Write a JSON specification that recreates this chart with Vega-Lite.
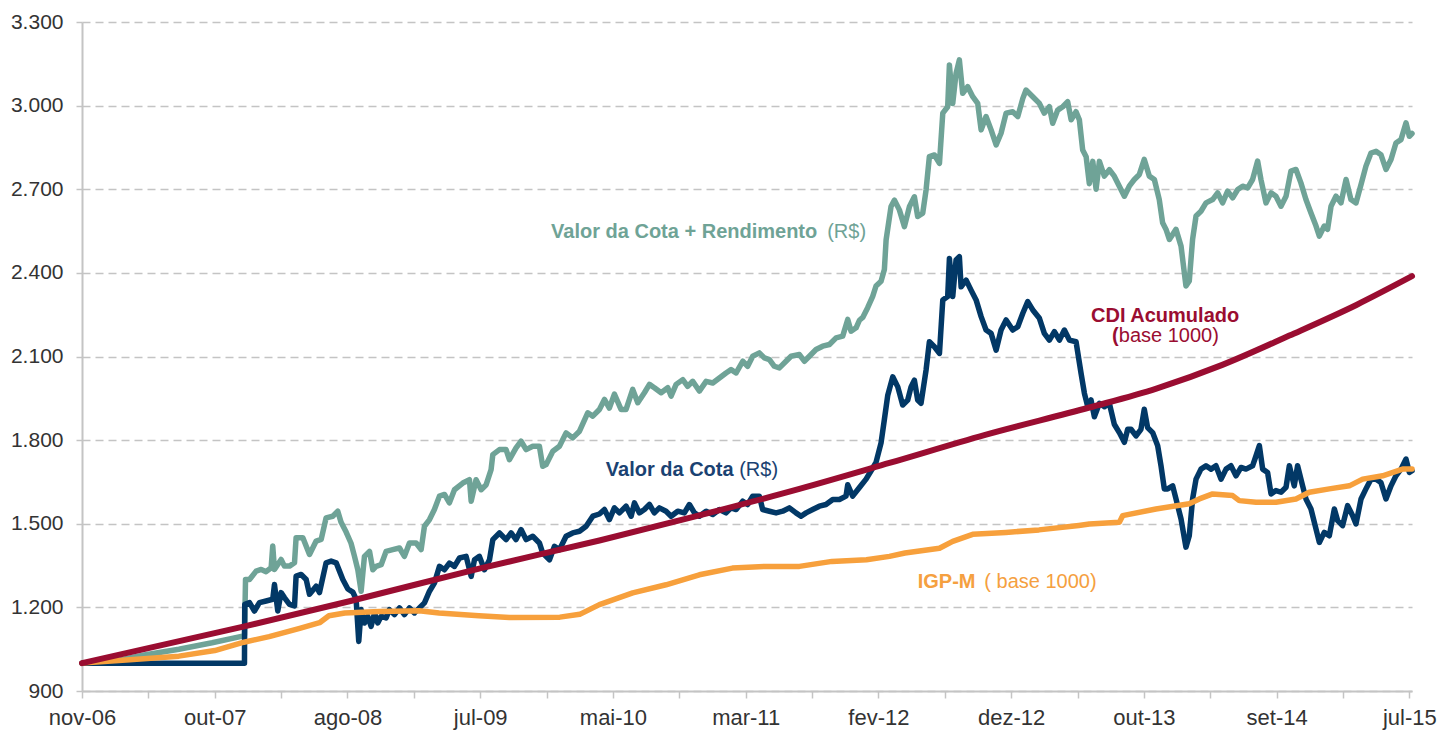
{
  "$schema": "https://vega.github.io/schema/vega-lite/v6.json",
  "width": 1330,
  "height": 669,
  "autosize": {"type": "none"},
  "padding": {"left": 82, "top": 22, "right": 28, "bottom": 40},
  "config": {
    "view": {"stroke": null},
    "font": "Liberation Sans",
    "axis": {"labelFont": "Liberation Sans", "labelColor": "#333333", "title": null}
  },
  "datasets": {
    "rend": [
      {"t":0,"v":1000},{"t":0.25,"v":1008},{"t":0.48,"v":1030},{"t":0.73,"v":1050},{"t":0.98,"v":1073},{"t":1.21,"v":1097},{"t":1.224,"v":1100},
      {"t":1.232,"v":1300},{"t":1.262,"v":1300},{"t":1.312,"v":1330},{"t":1.35,"v":1336},{"t":1.387,"v":1328},{"t":1.425,"v":1342},{"t":1.437,"v":1420},{"t":1.45,"v":1336},
      {"t":1.5,"v":1372},{"t":1.525,"v":1348},{"t":1.563,"v":1348},{"t":1.601,"v":1360},{"t":1.613,"v":1450},{"t":1.664,"v":1450},{"t":1.714,"v":1390},{"t":1.764,"v":1438},
      {"t":1.802,"v":1444},{"t":1.839,"v":1521},{"t":1.889,"v":1527},{"t":1.927,"v":1545},{"t":1.952,"v":1505},{"t":1.99,"v":1470},{"t":2.027,"v":1430},{"t":2.053,"v":1383},
      {"t":2.078,"v":1335},{"t":2.103,"v":1258},{"t":2.128,"v":1383},{"t":2.166,"v":1401},{"t":2.191,"v":1335},{"t":2.216,"v":1347},{"t":2.254,"v":1353},{"t":2.291,"v":1401},
      {"t":2.341,"v":1407},{"t":2.392,"v":1413},{"t":2.429,"v":1383},{"t":2.467,"v":1431},{"t":2.517,"v":1431},{"t":2.555,"v":1407},{"t":2.58,"v":1491},{"t":2.618,"v":1515},
      {"t":2.655,"v":1551},{"t":2.693,"v":1599},{"t":2.731,"v":1605},{"t":2.768,"v":1575},{"t":2.806,"v":1622},{"t":2.869,"v":1646},{"t":2.919,"v":1658},{"t":2.932,"v":1581},
      {"t":2.969,"v":1658},{"t":3.007,"v":1622},{"t":3.045,"v":1640},{"t":3.082,"v":1694},{"t":3.095,"v":1748},{"t":3.145,"v":1766},{"t":3.195,"v":1766},{"t":3.22,"v":1730},
      {"t":3.27,"v":1772},{"t":3.308,"v":1796},{"t":3.346,"v":1766},{"t":3.396,"v":1778},{"t":3.446,"v":1778},{"t":3.471,"v":1706},{"t":3.496,"v":1712},{"t":3.547,"v":1760},
      {"t":3.597,"v":1778},{"t":3.647,"v":1826},{"t":3.697,"v":1808},{"t":3.748,"v":1832},{"t":3.81,"v":1898},{"t":3.848,"v":1886},{"t":3.898,"v":1910},{"t":3.936,"v":1946},
      {"t":3.973,"v":1915},{"t":4.011,"v":1965},{"t":4.061,"v":1910},{"t":4.099,"v":1910},{"t":4.149,"v":1982},{"t":4.187,"v":1934},{"t":4.237,"v":1970},{"t":4.275,"v":2000},
      {"t":4.312,"v":1988},{"t":4.363,"v":1970},{"t":4.413,"v":1988},{"t":4.438,"v":1958},{"t":4.476,"v":2000},{"t":4.526,"v":2017},{"t":4.563,"v":1993},{"t":4.601,"v":2011},
      {"t":4.651,"v":1976},{"t":4.702,"v":2011},{"t":4.752,"v":2005},{"t":4.802,"v":2023},{"t":4.852,"v":2041},{"t":4.89,"v":2053},{"t":4.928,"v":2041},{"t":4.978,"v":2083},
      {"t":5.015,"v":2065},{"t":5.053,"v":2101},{"t":5.103,"v":2113},{"t":5.141,"v":2095},{"t":5.179,"v":2089},{"t":5.216,"v":2065},{"t":5.254,"v":2059},{"t":5.304,"v":2083},
      {"t":5.342,"v":2101},{"t":5.405,"v":2107},{"t":5.442,"v":2083},{"t":5.48,"v":2101},{"t":5.53,"v":2125},{"t":5.58,"v":2137},{"t":5.631,"v":2143},{"t":5.681,"v":2167},
      {"t":5.731,"v":2173},{"t":5.769,"v":2233},{"t":5.794,"v":2191},{"t":5.832,"v":2203},{"t":5.857,"v":2230},{"t":5.882,"v":2240},{"t":5.919,"v":2275},{"t":5.957,"v":2316},
      {"t":5.982,"v":2353},{"t":6.02,"v":2370},{"t":6.045,"v":2412},{"t":6.058,"v":2518},{"t":6.095,"v":2638},{"t":6.121,"v":2661},{"t":6.158,"v":2626},{"t":6.196,"v":2566},
      {"t":6.234,"v":2638},{"t":6.271,"v":2673},{"t":6.296,"v":2602},{"t":6.334,"v":2614},{"t":6.359,"v":2697},{"t":6.384,"v":2817},{"t":6.422,"v":2823},{"t":6.46,"v":2793},
      {"t":6.485,"v":2973},{"t":6.522,"v":2996},{"t":6.535,"v":3146},{"t":6.56,"v":3008},{"t":6.585,"v":3116},{"t":6.61,"v":3164},{"t":6.635,"v":3044},{"t":6.673,"v":3068},
      {"t":6.711,"v":3032},{"t":6.748,"v":3008},{"t":6.774,"v":2913},{"t":6.811,"v":2961},{"t":6.849,"v":2913},{"t":6.887,"v":2859},{"t":6.924,"v":2901},{"t":6.962,"v":2973},
      {"t":7.012,"v":2978},{"t":7.05,"v":2961},{"t":7.088,"v":3026},{"t":7.112,"v":3056},{"t":7.163,"v":3032},{"t":7.213,"v":3008},{"t":7.25,"v":2973},{"t":7.288,"v":2996},
      {"t":7.313,"v":2937},{"t":7.351,"v":2984},{"t":7.389,"v":2996},{"t":7.426,"v":3014},{"t":7.452,"v":2949},{"t":7.489,"v":2978},{"t":7.514,"v":2949},{"t":7.539,"v":2841},
      {"t":7.565,"v":2817},{"t":7.589,"v":2720},{"t":7.615,"v":2800},{"t":7.64,"v":2700},{"t":7.665,"v":2800},{"t":7.702,"v":2747},{"t":7.74,"v":2770},{"t":7.777,"v":2747},
      {"t":7.815,"v":2711},{"t":7.853,"v":2675},{"t":7.89,"v":2711},{"t":7.928,"v":2735},{"t":7.966,"v":2753},{"t":8.003,"v":2807},{"t":8.041,"v":2747},{"t":8.079,"v":2735},
      {"t":8.116,"v":2663},{"t":8.141,"v":2580},{"t":8.167,"v":2556},{"t":8.192,"v":2520},{"t":8.242,"v":2556},{"t":8.28,"v":2496},{"t":8.317,"v":2353},{"t":8.342,"v":2371},
      {"t":8.367,"v":2520},{"t":8.393,"v":2604},{"t":8.43,"v":2621},{"t":8.468,"v":2651},{"t":8.518,"v":2663},{"t":8.556,"v":2687},{"t":8.593,"v":2651},{"t":8.631,"v":2693},
      {"t":8.669,"v":2669},{"t":8.707,"v":2699},{"t":8.744,"v":2711},{"t":8.782,"v":2705},{"t":8.819,"v":2735},{"t":8.857,"v":2801},{"t":8.882,"v":2735},{"t":8.92,"v":2651},
      {"t":8.958,"v":2687},{"t":8.995,"v":2675},{"t":9.033,"v":2639},{"t":9.071,"v":2675},{"t":9.108,"v":2765},{"t":9.146,"v":2771},{"t":9.183,"v":2723},{"t":9.221,"v":2663},
      {"t":9.259,"v":2615},{"t":9.297,"v":2568},{"t":9.322,"v":2532},{"t":9.359,"v":2568},{"t":9.384,"v":2556},{"t":9.41,"v":2639},{"t":9.447,"v":2675},{"t":9.485,"v":2651},
      {"t":9.523,"v":2735},{"t":9.56,"v":2663},{"t":9.598,"v":2651},{"t":9.636,"v":2717},{"t":9.673,"v":2783},{"t":9.711,"v":2830},{"t":9.749,"v":2836},{"t":9.786,"v":2824},
      {"t":9.824,"v":2771},{"t":9.862,"v":2807},{"t":9.899,"v":2866},{"t":9.937,"v":2878},{"t":9.975,"v":2938},{"t":10.0,"v":2890},{"t":10.02,"v":2900}
    ],
    "cota": [
      {"t":0,"v":1000},{"t":1.224,"v":1000},{"t":1.226,"v":1211},{"t":1.262,"v":1217},{"t":1.299,"v":1187},{"t":1.337,"v":1217},{"t":1.387,"v":1223},{"t":1.437,"v":1229},
      {"t":1.45,"v":1282},{"t":1.475,"v":1187},{"t":1.5,"v":1253},{"t":1.525,"v":1235},{"t":1.563,"v":1211},{"t":1.601,"v":1205},{"t":1.613,"v":1312},{"t":1.651,"v":1318},
      {"t":1.689,"v":1300},{"t":1.714,"v":1247},{"t":1.764,"v":1276},{"t":1.789,"v":1253},{"t":1.839,"v":1360},{"t":1.877,"v":1366},{"t":1.915,"v":1360},{"t":1.94,"v":1330},
      {"t":1.965,"v":1300},{"t":2.003,"v":1266},{"t":2.04,"v":1255},{"t":2.065,"v":1230},{"t":2.085,"v":1078},{"t":2.103,"v":1192},{"t":2.128,"v":1144},{"t":2.153,"v":1168},
      {"t":2.178,"v":1132},{"t":2.204,"v":1180},{"t":2.228,"v":1144},{"t":2.254,"v":1168},{"t":2.291,"v":1162},{"t":2.316,"v":1192},{"t":2.354,"v":1174},{"t":2.392,"v":1198},
      {"t":2.429,"v":1174},{"t":2.467,"v":1198},{"t":2.505,"v":1180},{"t":2.542,"v":1198},{"t":2.58,"v":1216},{"t":2.618,"v":1258},{"t":2.655,"v":1287},{"t":2.693,"v":1347},
      {"t":2.731,"v":1335},{"t":2.768,"v":1359},{"t":2.806,"v":1347},{"t":2.844,"v":1377},{"t":2.894,"v":1383},{"t":2.932,"v":1311},{"t":2.957,"v":1371},{"t":2.994,"v":1383},
      {"t":3.032,"v":1335},{"t":3.07,"v":1371},{"t":3.095,"v":1443},{"t":3.145,"v":1467},{"t":3.195,"v":1443},{"t":3.233,"v":1467},{"t":3.27,"v":1443},{"t":3.308,"v":1479},
      {"t":3.346,"v":1443},{"t":3.396,"v":1455},{"t":3.446,"v":1431},{"t":3.471,"v":1395},{"t":3.522,"v":1371},{"t":3.559,"v":1419},{"t":3.597,"v":1407},{"t":3.647,"v":1455},
      {"t":3.697,"v":1467},{"t":3.748,"v":1473},{"t":3.798,"v":1491},{"t":3.848,"v":1527},{"t":3.898,"v":1535},{"t":3.936,"v":1551},{"t":3.973,"v":1515},{"t":4.011,"v":1557},
      {"t":4.049,"v":1539},{"t":4.099,"v":1563},{"t":4.137,"v":1527},{"t":4.162,"v":1575},{"t":4.199,"v":1539},{"t":4.237,"v":1551},{"t":4.275,"v":1569},{"t":4.312,"v":1539},
      {"t":4.35,"v":1557},{"t":4.4,"v":1545},{"t":4.438,"v":1527},{"t":4.488,"v":1545},{"t":4.538,"v":1539},{"t":4.576,"v":1569},{"t":4.614,"v":1539},{"t":4.651,"v":1527},
      {"t":4.702,"v":1545},{"t":4.752,"v":1533},{"t":4.802,"v":1551},{"t":4.852,"v":1539},{"t":4.89,"v":1557},{"t":4.928,"v":1551},{"t":4.978,"v":1581},{"t":5.015,"v":1569},
      {"t":5.053,"v":1599},{"t":5.103,"v":1599},{"t":5.128,"v":1551},{"t":5.179,"v":1545},{"t":5.229,"v":1539},{"t":5.279,"v":1545},{"t":5.329,"v":1557},{"t":5.379,"v":1539},
      {"t":5.417,"v":1527},{"t":5.455,"v":1539},{"t":5.505,"v":1551},{"t":5.555,"v":1563},{"t":5.605,"v":1569},{"t":5.656,"v":1587},{"t":5.706,"v":1587},{"t":5.756,"v":1599},
      {"t":5.769,"v":1640},{"t":5.806,"v":1599},{"t":5.857,"v":1630},{"t":5.907,"v":1660},{"t":5.945,"v":1690},{"t":5.982,"v":1720},{"t":6.02,"v":1790},{"t":6.045,"v":1874},
      {"t":6.07,"v":1960},{"t":6.108,"v":2027},{"t":6.146,"v":1991},{"t":6.183,"v":1926},{"t":6.221,"v":1944},{"t":6.246,"v":1991},{"t":6.271,"v":2015},{"t":6.296,"v":1944},
      {"t":6.321,"v":1932},{"t":6.359,"v":2051},{"t":6.384,"v":2153},{"t":6.422,"v":2135},{"t":6.46,"v":2111},{"t":6.485,"v":2303},{"t":6.522,"v":2315},{"t":6.535,"v":2452},
      {"t":6.56,"v":2315},{"t":6.585,"v":2446},{"t":6.61,"v":2458},{"t":6.623,"v":2350},{"t":6.661,"v":2374},{"t":6.698,"v":2338},{"t":6.736,"v":2303},{"t":6.774,"v":2243},
      {"t":6.811,"v":2195},{"t":6.849,"v":2183},{"t":6.887,"v":2123},{"t":6.924,"v":2195},{"t":6.962,"v":2231},{"t":7.012,"v":2195},{"t":7.05,"v":2207},{"t":7.088,"v":2255},
      {"t":7.125,"v":2297},{"t":7.163,"v":2267},{"t":7.213,"v":2237},{"t":7.25,"v":2183},{"t":7.288,"v":2159},{"t":7.326,"v":2189},{"t":7.364,"v":2159},{"t":7.401,"v":2195},
      {"t":7.439,"v":2159},{"t":7.489,"v":2153},{"t":7.527,"v":2039},{"t":7.552,"v":1968},{"t":7.577,"v":1920},{"t":7.602,"v":1944},{"t":7.627,"v":1884},{"t":7.665,"v":1932},
      {"t":7.703,"v":1920},{"t":7.74,"v":1932},{"t":7.777,"v":1857},{"t":7.815,"v":1827},{"t":7.853,"v":1792},{"t":7.878,"v":1839},{"t":7.903,"v":1839},{"t":7.941,"v":1815},
      {"t":7.978,"v":1839},{"t":8.003,"v":1911},{"t":8.028,"v":1845},{"t":8.066,"v":1827},{"t":8.104,"v":1780},{"t":8.129,"v":1708},{"t":8.154,"v":1625},{"t":8.179,"v":1625},
      {"t":8.217,"v":1636},{"t":8.242,"v":1589},{"t":8.28,"v":1517},{"t":8.317,"v":1416},{"t":8.342,"v":1457},{"t":8.367,"v":1589},{"t":8.393,"v":1660},{"t":8.43,"v":1696},
      {"t":8.468,"v":1708},{"t":8.506,"v":1696},{"t":8.543,"v":1708},{"t":8.581,"v":1660},{"t":8.619,"v":1696},{"t":8.656,"v":1708},{"t":8.694,"v":1672},{"t":8.732,"v":1702},
      {"t":8.769,"v":1696},{"t":8.819,"v":1708},{"t":8.845,"v":1744},{"t":8.87,"v":1780},{"t":8.895,"v":1696},{"t":8.932,"v":1684},{"t":8.958,"v":1607},{"t":8.995,"v":1619},
      {"t":9.033,"v":1613},{"t":9.071,"v":1631},{"t":9.096,"v":1708},{"t":9.133,"v":1636},{"t":9.158,"v":1708},{"t":9.196,"v":1636},{"t":9.221,"v":1589},{"t":9.259,"v":1553},
      {"t":9.297,"v":1481},{"t":9.322,"v":1433},{"t":9.359,"v":1469},{"t":9.397,"v":1457},{"t":9.435,"v":1553},{"t":9.46,"v":1511},{"t":9.497,"v":1493},{"t":9.535,"v":1565},
      {"t":9.573,"v":1529},{"t":9.598,"v":1499},{"t":9.636,"v":1589},{"t":9.673,"v":1625},{"t":9.711,"v":1660},{"t":9.749,"v":1660},{"t":9.786,"v":1648},{"t":9.824,"v":1589},
      {"t":9.862,"v":1636},{"t":9.899,"v":1672},{"t":9.937,"v":1696},{"t":9.975,"v":1732},{"t":10.0,"v":1684},{"t":10.02,"v":1690}
    ],
    "cdi": [
      {"t":0,"v":1000},{"t":1.224,"v":1132},{"t":2.015,"v":1222},{"t":3.0,"v":1340},{"t":3.898,"v":1440},{"t":4.651,"v":1530},{"t":5.405,"v":1625},{"t":6.083,"v":1718},
      {"t":6.798,"v":1818},{"t":7.589,"v":1917},{"t":8.094,"v":1985},{"t":8.591,"v":2070},{"t":9.096,"v":2175},{"t":9.601,"v":2285},{"t":10.02,"v":2388}
    ],
    "igpm": [
      {"t":0,"v":1000},{"t":0.36,"v":1012},{"t":0.73,"v":1025},{"t":1.0,"v":1045},{"t":1.22,"v":1075},{"t":1.41,"v":1095},{"t":1.64,"v":1125},{"t":1.79,"v":1145},
      {"t":1.86,"v":1170},{"t":1.98,"v":1180},{"t":2.24,"v":1185},{"t":2.54,"v":1188},{"t":2.69,"v":1180},{"t":2.99,"v":1170},{"t":3.22,"v":1164},{"t":3.6,"v":1165},
      {"t":3.75,"v":1175},{"t":3.898,"v":1210},{"t":4.149,"v":1252},{"t":4.4,"v":1281},{"t":4.651,"v":1317},{"t":4.9,"v":1341},{"t":5.15,"v":1347},{"t":5.405,"v":1347},
      {"t":5.65,"v":1365},{"t":5.91,"v":1371},{"t":6.083,"v":1383},{"t":6.2,"v":1395},{"t":6.46,"v":1412},{"t":6.56,"v":1437},{"t":6.71,"v":1462},{"t":6.96,"v":1469},
      {"t":7.21,"v":1478},{"t":7.51,"v":1494},{"t":7.589,"v":1499},{"t":7.815,"v":1505},{"t":7.84,"v":1529},{"t":8.091,"v":1553},{"t":8.342,"v":1572},{"t":8.418,"v":1589},
      {"t":8.518,"v":1607},{"t":8.669,"v":1601},{"t":8.719,"v":1583},{"t":8.845,"v":1577},{"t":8.995,"v":1577},{"t":9.146,"v":1589},{"t":9.246,"v":1613},{"t":9.397,"v":1625},
      {"t":9.548,"v":1636},{"t":9.648,"v":1660},{"t":9.799,"v":1672},{"t":9.949,"v":1696},{"t":10.02,"v":1696}
    ],
    "notes": [
      {"s":"rend","w":"b","t":3.534,"v":2526,"text":"Valor da Cota + Rendimento"},
      {"s":"rend","w":"n","t":5.614,"v":2526,"text":"(R$)"},
      {"s":"cota","w":"b","t":3.946,"v":1671,"text":"Valor da Cota"},
      {"s":"cota","w":"n","t":4.951,"v":1671,"text":"(R$)"},
      {"s":"cdi","w":"b","t":7.602,"v":2225,"text":"CDI Acumulado"},
      {"s":"cdi","w":"b","t":7.760,"v":2153,"text":"("},
      {"s":"cdi","w":"n","t":7.811,"v":2153,"text":"base 1000)"},
      {"s":"igpm","w":"b","t":6.296,"v":1270,"text":"IGP-M"},
      {"s":"igpm","w":"n","t":6.798,"v":1270,"text":"( base 1000)"}
    ]
  },
  "encoding": {
    "x": {
      "field": "t", "type": "quantitative",
      "scale": {"domain": [0, 10.02], "nice": false, "zero": false},
      "axis": {
        "values": [0,0.5,1,1.5,2,2.5,3,3.5,4,4.5,5,5.5,6,6.5,7,7.5,8,8.5,9,9.5,10],
        "labelExpr": "datum.value % 1 === 0 ? ['nov-06','out-07','ago-08','jul-09','mai-10','mar-11','fev-12','dez-12','out-13','set-14','jul-15'][datum.value] : ''",
        "labelOverlap": false, "labelFlush": false, "labelFontSize": 22, "labelPadding": 9,
        "grid": false, "domainColor": "#c4c4c4", "domainWidth": 2,
        "tickColor": "#c4c4c4", "tickSize": 7, "tickWidth": 1.5
      }
    },
    "y": {
      "field": "v", "type": "quantitative",
      "scale": {"domain": [900, 3300], "nice": false, "zero": false},
      "axis": {
        "values": [900,1200,1500,1800,2100,2400,2700,3000,3300],
        "labelExpr": "replace(format(datum.value, ','), ',', '.')",
        "labelFontSize": 21, "labelPadding": 13,
        "grid": true, "gridColor": "#c4c4c4", "gridDash": [8, 5], "gridWidth": 1.5,
        "domainColor": "#c4c4c4", "domainWidth": 2,
        "tickColor": "#c4c4c4", "tickSize": 6, "tickWidth": 1.5
      }
    }
  },
  "layer": [
    {"data": {"name": "rend"}, "mark": {"type": "line", "color": "#6fa397", "strokeWidth": 5.5, "strokeJoin": "round", "strokeCap": "round"}},
    {"data": {"name": "cota"}, "mark": {"type": "line", "color": "#023866", "strokeWidth": 5.5, "strokeJoin": "round", "strokeCap": "round"}},
    {"data": {"name": "igpm"}, "mark": {"type": "line", "color": "#f7a03c", "strokeWidth": 5.5, "strokeJoin": "round", "strokeCap": "round"}},
    {"data": {"name": "cdi"}, "mark": {"type": "line", "color": "#9a0d31", "strokeWidth": 6, "interpolate": "monotone", "strokeCap": "round"}},
    {
      "data": {"name": "notes"},
      "transform": [{"filter": "datum.w === 'b'"}],
      "mark": {"type": "text", "fontWeight": "bold", "fontSize": 20, "align": "left", "baseline": "alphabetic", "font": "Liberation Sans"},
      "encoding": {
        "text": {"field": "text"},
        "color": {"field": "s", "type": "nominal", "scale": {"domain": ["rend","cota","cdi","igpm"], "range": ["#6fa396","#1a4272","#9a0d31","#f5a040"]}, "legend": null}
      }
    },
    {
      "data": {"name": "notes"},
      "transform": [{"filter": "datum.w === 'n'"}],
      "mark": {"type": "text", "fontWeight": "normal", "fontSize": 20, "align": "left", "baseline": "alphabetic", "font": "Liberation Sans"},
      "encoding": {
        "text": {"field": "text"},
        "color": {"field": "s", "type": "nominal", "scale": {"domain": ["rend","cota","cdi","igpm"], "range": ["#6fa396","#1a4272","#9a0d31","#f5a040"]}, "legend": null}
      }
    }
  ]
}
